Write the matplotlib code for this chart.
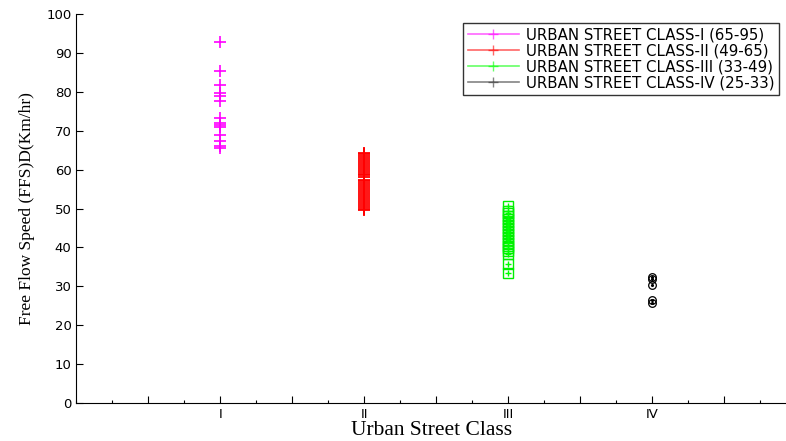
import numpy as np
import matplotlib.pyplot as plt
from matplotlib.ticker import MultipleLocator, FixedLocator, FixedFormatter

# free flow speeds observed per urban street class (km/hr)
class_i = [92.8, 85.3, 81.7, 79.6, 79.0, 77.6, 73.2, 72.0, 71.5, 71.1, 68.8, 67.5, 66.1, 65.6]
class_ii = [64.4, 64.0, 63.5, 63.0, 62.6, 62.0, 61.5, 61.0, 60.4, 60.0, 59.5, 59.0, 58.6,
            58.0, 57.4, 57.0, 56.5, 56.0, 55.5, 55.0, 54.5, 54.0, 53.4, 53.0, 52.5, 52.0,
            51.5, 51.0, 50.4, 50.0, 49.6]
class_iii = [50.6, 49.5, 48.8, 48.0, 47.2, 46.5, 45.8, 45.0, 44.2, 43.5, 42.8, 42.0,
             41.2, 40.5, 39.8, 39.0, 38.4, 35.8, 33.4]
class_iv = [32.4, 31.8, 30.3, 26.6, 25.6]

labels = ['URBAN STREET CLASS-I (65-95)', 'URBAN STREET CLASS-II (49-65)',
          'URBAN STREET CLASS-III (33-49)', 'URBAN STREET CLASS-IV (25-33)']
class_names = ['I', 'II', 'III', 'IV']

fig = plt.figure(figsize=(7.86, 4.41), dpi=100)
ax = fig.add_axes([0.097, 0.086, 0.903, 0.882])

ax.plot([1] * len(class_i), class_i, '+', color='#ff00ff', ms=8, mew=1.2)
ax.plot([2] * len(class_ii), class_ii, '+', color='#ff0000', ms=8, mew=1.3)
ax.plot([3] * len(class_iii), class_iii, 's', mfc='none', mec='#00ee00', ms=6.5, mew=1.0)
ax.plot([3] * len(class_iii), class_iii, '+', color='#00ff00', ms=4, mew=1.0)
ax.plot([4] * len(class_iv), class_iv, 'o', mfc='none', mec='black', ms=5.5, mew=0.9)
ax.plot([4] * len(class_iv), class_iv, '.', color='black', ms=2.5)

# legend keys are line + marker
keys = []
for c in ['#ff00ff', '#ff0000', '#00ff00', '#333333']:
    k, = ax.plot([], [], '-+', color=c, lw=1.2, ms=7, alpha=0.6)
    keys.append(k)
leg = ax.legend(keys, labels, loc='upper right', bbox_to_anchor=(0.996, 0.99),
                prop={'family': 'DejaVu Sans', 'size': 10.8}, frameon=True,
                fancybox=False, handlelength=3.4, labelspacing=0.08, borderpad=0.3,
                handletextpad=0.45, borderaxespad=0.3)
leg.get_frame().set_edgecolor('black')
leg.get_frame().set_linewidth(1.0)

ax.set_xlim(0, 4.93)
ax.set_ylim(0, 100)
ax.spines['top'].set_visible(False)
ax.spines['right'].set_visible(False)

ax.xaxis.set_major_locator(FixedLocator([0.5, 1, 1.5, 2, 2.5, 3, 3.5, 4, 4.5]))
ax.xaxis.set_major_formatter(FixedFormatter(['', 'I', '', 'II', '', 'III', '', 'IV', '']))
ax.xaxis.set_minor_locator(MultipleLocator(0.25))
ax.yaxis.set_major_locator(MultipleLocator(10))
ax.tick_params(axis='both', which='major', direction='in', length=5, width=0.8,
               labelsize=9.5)
ax.tick_params(axis='x', which='minor', direction='in', length=2.5, width=0.8)
for t in ax.get_xticklabels() + ax.get_yticklabels():
    t.set_fontfamily('DejaVu Sans')

ax.set_xlabel('Urban Street Class', family='Liberation Serif', fontsize=15.5, labelpad=0)
ax.set_ylabel('Free Flow Speed (FFS)D(Km/hr)', family='Liberation Serif', fontsize=12.5,
              labelpad=8)

fig.savefig('out.png', dpi=100)
